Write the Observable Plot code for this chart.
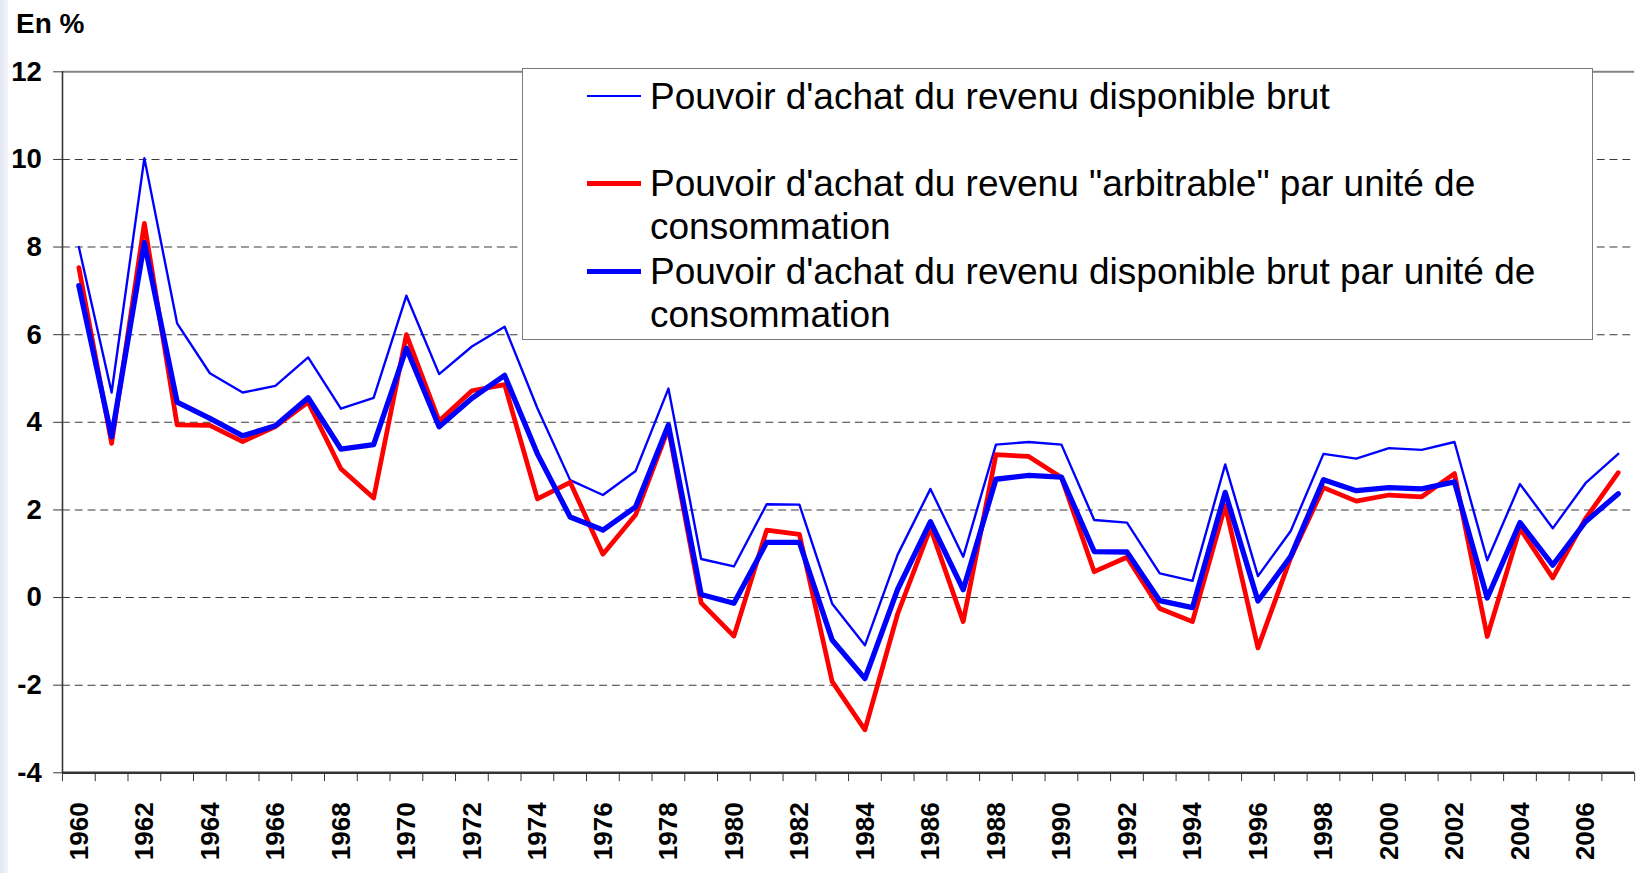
<!DOCTYPE html>
<html>
<head>
<meta charset="utf-8">
<script src="https://cdn.jsdelivr.net/npm/d3@7"></script>
<script src="https://cdn.jsdelivr.net/npm/@observablehq/plot@0.6"></script>
<style>
  html, body { margin: 0; padding: 0; background: #fff; overflow: hidden; }
  #wrap { position: relative; width: 1643px; height: 873px; overflow: hidden; background: #fff;
          font-family: "Liberation Sans", Arial, sans-serif; }
  #strip { position: absolute; left: 0; top: 0; width: 8px; height: 873px;
           background: linear-gradient(to right, #e2e6f2, #f3f5fa); z-index: 3; }
  #chart { position: absolute; left: 0; top: 0; }
  #unit { position: absolute; left: 16px; top: 6px; font-size: 28px; font-weight: bold; color: #000; line-height: 35px; }
  #legend { position: absolute; left: 522px; top: 68px; width: 1069px; height: 270px;
            border: 1.5px solid #7a7a7a; background: #fff; z-index: 2; }
  .sw { position: absolute; left: 64px; width: 54px; }
  .lt { position: absolute; left: 127px; font-size: 37px; line-height: 43px; color: #000; white-space: nowrap; }
</style>
</head>
<body>
<div id="wrap">
  <div id="strip"></div>
  <div id="chart"></div>
  <div id="unit">En %</div>
  <div id="legend"></div>
</div>
<script>
// ---- data ----
const years = [1960,1961,1962,1963,1964,1965,1966,1967,1968,1969,
               1970,1971,1972,1973,1974,1975,1976,1977,1978,1979,
               1980,1981,1982,1983,1984,1985,1986,1987,1988,1989,
               1990,1991,1992,1993,1994,1995,1996,1997,1998,1999,
               2000,2001,2002,2003,2004,2005,2006,2007];

// Pouvoir d'achat du revenu disponible brut (thin blue)
const rdb = [8.0, 4.68, 10.03, 6.26, 5.12, 4.68, 4.83, 5.48, 4.31, 4.56,
             6.89, 5.10, 5.73, 6.18, 4.32, 2.68, 2.34, 2.89, 4.77, 0.88,
             0.71, 2.13, 2.12, -0.14, -1.09, 0.98, 2.48, 0.93, 3.49, 3.55,
             3.49, 1.77, 1.71, 0.55, 0.38, 3.04, 0.49, 1.52, 3.28, 3.17,
             3.41, 3.37, 3.55, 0.85, 2.59, 1.58, 2.61, 3.28];

// Pouvoir d'achat du revenu "arbitrable" par unité de consommation (red)
const arbitrable = [7.53, 3.52, 8.54, 3.94, 3.93, 3.56, 3.90, 4.46, 2.94, 2.27,
                    6.0, 4.03, 4.72, 4.86, 2.25, 2.63, 0.99, 1.89, 3.86, -0.12,
                    -0.88, 1.54, 1.44, -1.92, -3.02, -0.37, 1.59, -0.55, 3.26, 3.22,
                    2.74, 0.59, 0.92, -0.25, -0.55, 2.10, -1.15, 0.91, 2.51, 2.20,
                    2.34, 2.30, 2.83, -0.89, 1.58, 0.45, 1.80, 2.85];

// Pouvoir d'achat du revenu disponible brut par unité de consommation (thick blue)
const rdbUc = [7.12, 3.67, 8.1, 4.46, 4.09, 3.69, 3.92, 4.56, 3.39, 3.49,
               5.69, 3.90, 4.55, 5.07, 3.28, 1.84, 1.54, 2.07, 3.94, 0.07,
               -0.13, 1.26, 1.26, -0.97, -1.85, 0.19, 1.73, 0.18, 2.70, 2.79,
               2.75, 1.05, 1.04, -0.07, -0.23, 2.40, -0.08, 0.94, 2.69, 2.44,
               2.51, 2.48, 2.64, -0.01, 1.71, 0.74, 1.73, 2.37];

const yTicks = [-4, -2, 0, 2, 4, 6, 8, 10, 12];
const gridValues = [-2, 0, 2, 4, 6, 8, 10];
const labelYears = [1960,1962,1964,1966,1968,1970,1972,1974,1976,1978,1980,1982,1984,
                    1986,1988,1990,1992,1994,1996,1998,2000,2002,2004,2006];

const seriesNames = [
  "Pouvoir d'achat du revenu disponible brut",
  "Pouvoir d'achat du revenu \"arbitrable\" par unité de<br>consommation",
  "Pouvoir d'achat du revenu disponible brut par unité de<br>consommation"
];
const seriesColors = ["#0000ff", "#ff0000", "#0000ff"];

// ---- chart ----
const boundaries = years.map(y => y - 0.5).concat([years[years.length - 1] + 0.5]);

const chart = Plot.plot({
  width: 1670,
  height: 873,
  marginLeft: 63,
  marginRight: 9,
  marginTop: 72.5,
  marginBottom: 88,
  x: {type: "linear", domain: [boundaries[0], boundaries[boundaries.length - 1]]},
  y: {domain: [-4, 12]},
  style: {fontFamily: "'Liberation Sans', Arial, sans-serif", fontWeight: "bold", background: "transparent", color: "#000"},
  marks: [
    Plot.ruleY(gridValues, {stroke: "#3a3a3a", strokeWidth: 1.1, strokeDasharray: "8,5"}),
    Plot.ruleY([12], {stroke: "#858585", strokeWidth: 2}),
    // tick marks only; labels are drawn with text marks below
    Plot.axisY({ticks: yTicks, tickSize: 9, tickFormat: () => "", label: null, stroke: "#333"}),
    Plot.axisX({ticks: boundaries, tickSize: 9, tickFormat: () => "", label: null, stroke: "#333"}),
    Plot.text(yTicks, {y: d => d, text: d => String(d), frameAnchor: "left", textAnchor: "end",
                       dx: -21, fontSize: 28, fontWeight: "bold", fill: "#000"}),
    Plot.text(labelYears, {x: d => d, text: d => String(d), frameAnchor: "bottom", rotate: -90,
                           textAnchor: "end", dy: 30, dx: 9, fontSize: 26.5, fontWeight: "bold", fill: "#000"}),
    Plot.line(years, {x: d => d, y: (d, i) => rdb[i], stroke: seriesColors[0], strokeWidth: 2.4}),
    Plot.line(years, {x: d => d, y: (d, i) => arbitrable[i], stroke: seriesColors[1], strokeWidth: 4.8}),
    Plot.line(years, {x: d => d, y: (d, i) => rdbUc[i], stroke: seriesColors[2], strokeWidth: 5.4}),
    Plot.ruleX([boundaries[0]], {stroke: "#333", strokeWidth: 1.6}),
    Plot.ruleY([-4], {stroke: "#333", strokeWidth: 2.4})
  ]
});
document.getElementById("chart").appendChild(chart);

// ---- legend (HTML, over the plot) ----
const legend = document.getElementById("legend");
const swatchWidths = [2, 5, 5];
const swatchTops = [27, 114.7, 202.7];   // centre of the swatch, relative to box
const textTops = [6, 93.4, 181];
seriesNames.forEach((name, i) => {
  const sw = document.createElement("div");
  sw.className = "sw";
  sw.style.top = (swatchTops[i] - swatchWidths[i] / 2) + "px";
  sw.style.height = swatchWidths[i] + "px";
  sw.style.background = seriesColors[i];
  legend.appendChild(sw);
  const t = document.createElement("div");
  t.className = "lt";
  t.style.top = textTops[i] + "px";
  t.innerHTML = name;
  legend.appendChild(t);
});
</script>
</body>
</html>
